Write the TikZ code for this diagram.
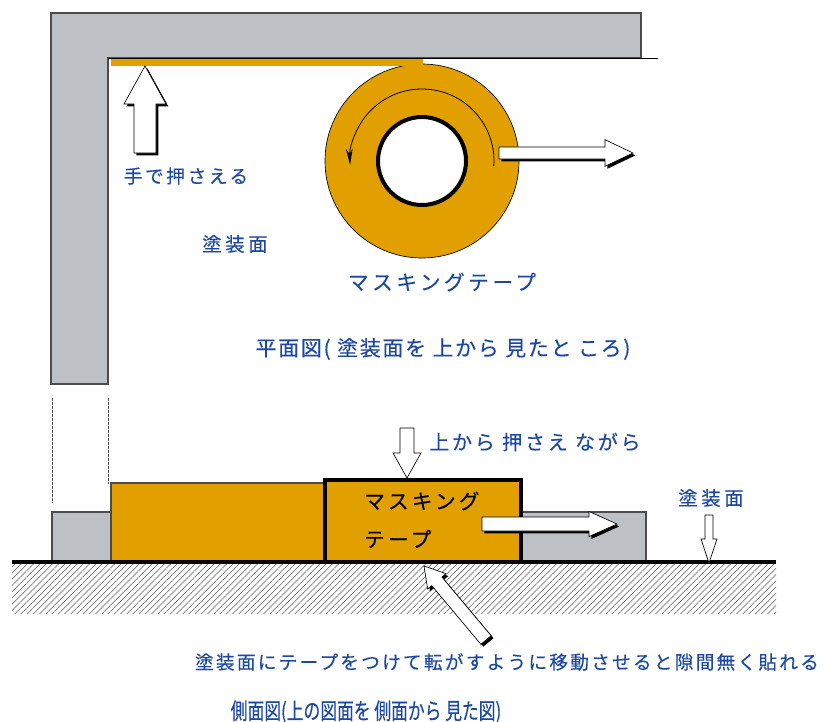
\documentclass[tikz,border=0pt]{standalone}
\usepackage{fontspec}
\setmainfont{Noto Sans CJK JP}
\usetikzlibrary{calc, arrows.meta, patterns.meta}
\definecolor{wallgray}{RGB}{189, 192, 196}
\definecolor{tapecol}{RGB}{225, 160, 0}
\definecolor{notecol}{RGB}{28, 72, 160}
% size and letter spacing of the japanese labels
\newcommand{\jfont}[2]{\fontsize{#1}{#1}\selectfont\addfontfeatures{LetterSpace=#2, FakeBold=0.3}}
% block arrow: [style]{tail}{tip}{shaft half width}{head half width}{head length}
\newcommand{\fatarrow}[6][fatarrow]{%
  \coordinate (#2-hb) at ($(#3)!#6!(#2)$);
  \path[#1] ($(#2)!#4!90:(#3)$) -- ($(#2-hb)!#4!-90:(#2)$)
    -- ($(#2-hb)!#5!-90:(#2)$) -- (#3) -- ($(#2-hb)!#5!90:(#2)$)
    -- ($(#2-hb)!#4!90:(#2)$) -- ($(#2)!#4!-90:(#3)$) -- cycle;
}
\tikzset{
  wall/.style={fill=wallgray, draw=black!70, line width=0.8pt},
  tape/.style={fill=tapecol},
  note/.style={text=notecol, inner sep=0pt},
  fatarrow/.style={fill=white, draw=black, line width=0.5pt},
  shadowed/.style={preaction={fill=black, transform canvas={shift={(1.8pt,-1.8pt)}}}},
}

\begin{document}
\begin{tikzpicture}[x=0.75pt, y=-0.75pt]
  \useasboundingbox (0,0) rectangle (840,722);

  % ---- plan view ----
  \draw[wall] (51,13) -- (641,13) -- (641,58) -- (108,58) -- (108,384) -- (51,384) -- cycle;
  \coordinate (rollc) at (422,161);
  \draw[tape, draw=black, line width=0.5pt] (rollc) circle[radius=97];
  \draw[fill=white, line width=3pt] (rollc) circle[radius=44];
  \fill[tape] (111,58) rectangle (423,66);
  \coordinate (edgeL) at (108,58);
  \coordinate (edgeR) at (658,58);
  \draw[line width=0.7pt] (edgeL) -- (edgeR);

  % turning direction of the roll
  \draw[line width=0.6pt, -{Stealth[length=12pt, width=5pt]}]
    ($(rollc)+(4:72)$) arc[start angle=4, end angle=-183, radius=72];

  \coordinate (pushT) at (145,153);
  \coordinate (pushH) at (145,66);
  \fatarrow[fatarrow, shadowed]{pushT}{pushH}{8.25pt}{15.75pt}{28.5pt}
  \coordinate (moveT) at (499,153);
  \coordinate (moveH) at (633,153);
  \fatarrow[fatarrow, shadowed]{moveT}{moveH}{4.5pt}{10pt}{21pt}

  \node[note, font=\jfont{14pt}{14}] (handnote) at (186,176) {手で押さえる};
  \node[note, font=\jfont{14.5pt}{19}] (surfnote) at (235,244) {塗装面};
  \node[note, font=\jfont{15.5pt}{17}] (tapenote) at (442,282) {マスキングテープ};
  \node[note, font=\jfont{15.75pt}{8}] (plantitle) at (443,349) {平面図( 塗装面を 上から 見たと ころ)};

  % ---- side view ----
  \draw[black!70, dash pattern=on 2pt off 1pt, line width=0.6pt]
    (52,398) -- (52,503) (108,398) -- (108,484);
  \draw[wall] (52,512) rectangle (111,562);
  \draw[tape, draw=black!70, line width=0.8pt] (111,483) rectangle (325,562);
  \draw[wall] (521,512) rectangle (646,562);
  \draw[tape, draw=black, line width=2.3pt] (325,480) rectangle (521,562);
  \node[anchor=west, inner sep=0pt, font=\jfont{15.5pt}{15}] (sidetape1) at (364,501) {マスキング};
  \node[anchor=west, inner sep=0pt, font=\jfont{15.5pt}{15}] (sidetape2) at (364,539) {テープ};

  \fill[pattern={Lines[angle=45, distance=3.3pt, line width=0.4pt]}, pattern color=black!65]
    (12,564) rectangle (776,613);
  \coordinate (groundL) at (12,562);
  \coordinate (groundR) at (776,562);
  \draw[line width=2.3pt] (groundL) -- (groundR);

  \coordinate (pressT) at (407,428);
  \coordinate (pressH) at (407,478);
  \fatarrow{pressT}{pressH}{5.25pt}{10.5pt}{18.75pt}
  \coordinate (rollT) at (482,524);
  \coordinate (rollH) at (617,524);
  \fatarrow[fatarrow, shadowed]{rollT}{rollH}{5.25pt}{9.4pt}{21pt}
  \coordinate (surfT) at (709,515);
  \coordinate (surfH) at (709,563);
  \fatarrow{surfT}{surfH}{3pt}{6pt}{18pt}
  \coordinate (stickT) at (486,640);
  \coordinate (stickH) at (424,566);
  \fatarrow[fatarrow, shadowed]{stickT}{stickH}{5pt}{9pt}{15pt}

  \node[note, font=\jfont{15pt}{14}] (pressnote) at (535,442) {上から 押さえ ながら};
  \node[note, font=\jfont{14.5pt}{19}] (surfnote2) at (711,498) {塗装面};
  \node[note, font=\jfont{14pt}{12}] (sticknote) at (507,662) {塗装面にテープをつけて転がすように移動させると隙間無く貼れる};
  \node[note, font=\fontsize{17pt}{17pt}\selectfont\addfontfeatures{FakeStretch=0.74, FakeBold=0.3}] (sidetitle) at (366,712) {側面図(上の図面を 側面から 見た図)};
\end{tikzpicture}
\end{document}
